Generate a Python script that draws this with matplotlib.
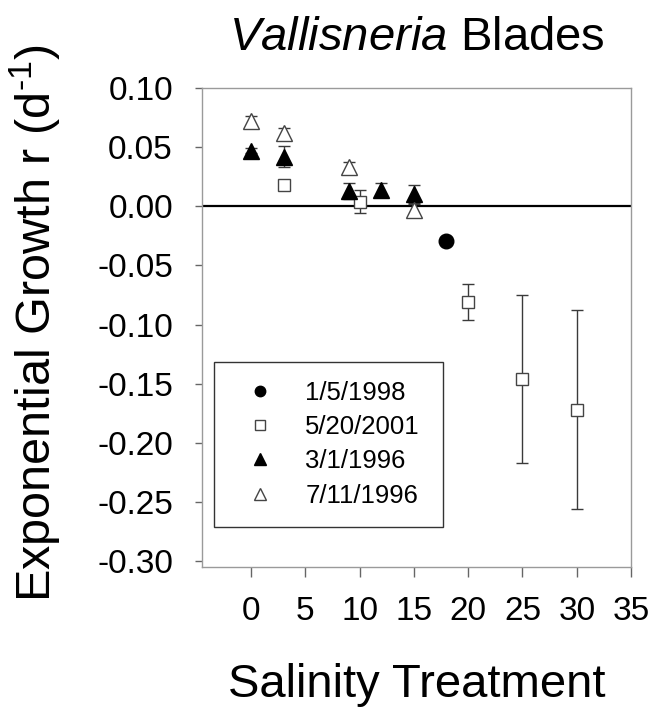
import matplotlib

matplotlib.use("Agg")
import matplotlib.pyplot as plt
from matplotlib.lines import Line2D

plt.rcParams["font.family"] = ["Liberation Sans", "DejaVu Sans"]
plt.rcParams["mathtext.fontset"] = "custom"
plt.rcParams["mathtext.rm"] = "Liberation Sans"
plt.rcParams["mathtext.it"] = "Liberation Sans:italic"

# salinity treatment, growth rate, error bar half-width
jan98_x = [18]
jan98_y = [-0.029]
jan98_err = [0.0]

may01_x = [3, 10, 20, 25, 30]
may01_y = [0.018, 0.004, -0.081, -0.146, -0.172]
may01_err = [0.003, 0.0095, 0.015, 0.071, 0.084]

mar96_x = [0, 3, 9, 12, 15]
mar96_y = [0.047, 0.042, 0.013, 0.014, 0.010]
mar96_err = [0.002, 0.009, 0.007, 0.006, 0.0076]

jul96_x = [0, 3, 9, 15]
jul96_y = [0.072, 0.062, 0.033, -0.003]
jul96_err = [0.004, 0.004, 0.004, 0.005]

x_ticks = [0, 5, 10, 15, 20, 25, 30, 35]
y_ticks = [0.10, 0.05, 0.00, -0.05, -0.10, -0.15, -0.20, -0.25, -0.30]


def main() -> None:
    fig = plt.figure(figsize=(6.54, 7.09), dpi=100)
    ax = fig.add_axes([0.309, 0.2003, 0.656, 0.6756])

    ax.axhline(0, color="black", lw=1.6, zorder=1)

    err_kw = {"ecolor": "#3a3a3a", "elinewidth": 1.0, "capsize": 4, "capthick": 1.0, "ls": "none"}
    ax.errorbar(jan98_x, jan98_y, yerr=jan98_err, marker="o", ms=10.5, mfc="black",
                mec="black", zorder=3, **err_kw)
    ax.errorbar(may01_x, may01_y, yerr=may01_err, marker="s", ms=9, mfc="white",
                mec="#444444", mew=1.0, zorder=3, **err_kw)
    ax.errorbar(mar96_x, mar96_y, yerr=mar96_err, marker="^", ms=11, mfc="black",
                mec="black", zorder=3, **err_kw)
    ax.errorbar(jul96_x, jul96_y, yerr=jul96_err, marker="^", ms=11, mfc="white",
                mec="#444444", mew=1.0, zorder=3, **err_kw)

    ax.set_xlim(-4.5, 35)
    ax.set_ylim(-0.305, 0.10)
    ax.set_xticks(x_ticks)
    ax.set_yticks(y_ticks)
    ax.set_xticklabels([str(t) for t in x_ticks])
    ax.set_yticklabels([f"{t:.2f}" for t in y_ticks])

    for spine in ax.spines.values():
        spine.set_color("#9a9a9a")
        spine.set_linewidth(1.0)
    ax.tick_params(axis="x", direction="out", length=7, width=1, color="#666666",
                   labelsize=24, pad=14)
    ax.tick_params(axis="y", direction="out", length=5, width=1, color="#666666",
                   labelsize=24, pad=16)

    ax.set_xlabel("Salinity Treatment", fontsize=34, labelpad=26)
    ax.set_ylabel(r"Exponential Growth r (d$^{\text{-1}}$)", fontsize=35)
    ax.yaxis.set_label_coords(-0.389, 0.51)
    ax.yaxis.label.set_verticalalignment("center")
    ax.set_title(r"$\mathit{Vallisneria}$ Blades", fontsize=34, pad=27)

    handles = [
        Line2D([], [], ls="none", marker="o", ms=7.5, mfc="black", mec="black"),
        Line2D([], [], ls="none", marker="s", ms=6.5, mfc="white", mec="#444444"),
        Line2D([], [], ls="none", marker="^", ms=8, mfc="black", mec="black"),
        Line2D([], [], ls="none", marker="^", ms=8, mfc="white", mec="#444444"),
    ]
    labels = ["1/5/1998", "5/20/2001", "3/1/1996", "7/11/1996"]
    leg = ax.legend(handles, labels, loc="lower left",
                    bbox_to_anchor=(0.028, 0.0835, 0.534, 0.3465),
                    mode="expand", fontsize=18.5, frameon=True, fancybox=False,
                    edgecolor="black", borderpad=0.75, labelspacing=0.4,
                    handlelength=2.1, handletextpad=0.7, borderaxespad=0)
    leg.get_frame().set_linewidth(1.0)

    fig.savefig("out.png", dpi=100)


if __name__ == "__main__":
    main()
